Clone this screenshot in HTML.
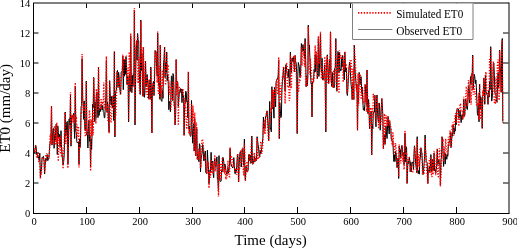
<!DOCTYPE html>
<html><head><meta charset="utf-8"><style>
html,body{margin:0;padding:0;background:#fff;width:517px;height:248px;overflow:hidden}
svg{display:block;will-change:transform}
text{font-family:"Liberation Serif",serif}
</style></head><body>
<svg width="517" height="248" viewBox="0 0 517 248">
<rect width="517" height="248" fill="#fff"/>
<defs><clipPath id="c"><rect x="33" y="3" width="476" height="211"/></clipPath></defs>
<g clip-path="url(#c)">
<polyline points="33.5,150.0 34.0,153.4 34.6,151.0 35.1,149.3 35.6,145.3 36.1,147.0 36.7,154.5 37.2,154.6 37.7,157.6 38.3,156.6 38.8,159.1 39.3,160.7 39.8,153.2 40.4,177.0 40.9,169.2 41.4,170.6 42.0,158.6 42.5,157.1 43.0,156.7 43.5,156.3 44.1,161.7 44.6,174.0 45.1,165.2 45.7,159.1 46.2,160.2 46.7,160.1 47.2,154.5 47.8,160.7 48.3,158.7 48.8,159.0 49.4,151.2 49.9,143.6 50.4,141.0 50.9,140.5 51.5,106.0 52.0,145.1 52.5,138.2 53.1,128.8 53.6,128.5 54.1,148.3 54.6,134.6 55.2,140.3 55.7,129.0 56.2,124.1 56.8,134.1 57.3,154.6 57.8,125.9 58.3,132.3 58.9,138.4 59.4,134.4 59.9,146.6 60.5,146.1 61.0,130.7 61.5,147.2 62.0,154.0 62.6,160.8 63.1,165.0 63.6,162.3 64.2,154.8 64.7,132.5 65.2,112.0 65.7,136.2 66.3,133.2 66.8,122.0 67.3,121.4 67.9,164.0 68.4,148.4 68.9,119.4 69.4,118.7 70.0,125.1 70.5,95.0 71.0,146.2 71.6,117.5 72.1,115.3 72.6,117.4 73.1,115.5 73.7,113.3 74.2,128.7 74.7,138.5 75.3,86.0 75.8,131.3 76.3,132.7 76.8,141.7 77.4,143.0 77.9,142.2 78.4,142.0 79.0,164.0 79.5,139.0 80.0,147.4 80.5,142.9 81.1,106.7 81.6,105.6 82.1,58.6 82.7,99.9 83.2,103.5 83.7,119.4 84.2,100.9 84.8,128.2 85.3,130.7 85.8,123.6 86.3,81.0 86.9,135.0 87.4,132.1 87.9,148.0 88.5,126.7 89.0,120.4 89.5,141.3 90.0,135.7 90.6,167.0 91.1,139.4 91.6,149.6 92.2,130.0 92.7,104.1 93.2,107.8 93.7,77.4 94.3,104.8 94.8,121.7 95.3,101.9 95.9,118.3 96.4,97.5 96.9,92.4 97.4,105.6 98.0,117.6 98.5,67.0 99.0,115.5 99.6,110.6 100.1,108.0 100.6,111.5 101.1,104.4 101.7,105.9 102.2,110.0 102.7,105.2 103.3,111.7 103.8,112.5 104.3,117.8 104.8,117.6 105.4,103.9 105.9,97.2 106.4,61.0 107.0,111.9 107.5,102.1 108.0,107.1 108.5,122.4 109.1,132.0 109.6,80.6 110.1,92.1 110.7,102.5 111.2,105.1 111.7,96.4 112.2,107.6 112.8,107.5 113.3,95.5 113.8,120.6 114.4,52.0 114.9,137.0 115.4,96.0 115.9,91.1 116.5,90.0 117.0,71.5 117.5,70.4 118.1,87.5 118.6,72.3 119.1,76.4 119.6,87.7 120.2,91.3 120.7,94.2 121.2,72.1 121.8,71.3 122.3,70.6 122.8,56.0 123.3,89.7 123.9,60.0 124.4,76.2 124.9,59.4 125.5,74.3 126.0,56.9 126.5,67.0 127.0,84.3 127.6,76.7 128.1,76.9 128.6,122.0 129.2,79.9 129.7,74.3 130.2,91.6 130.7,36.0 131.3,79.6 131.8,92.5 132.3,75.4 132.9,86.8 133.4,73.4 133.9,72.9 134.4,10.0 135.0,125.0 135.5,84.7 136.0,48.8 136.6,40.7 137.1,60.3 137.6,33.5 138.1,40.7 138.7,40.7 139.2,69.8 139.7,82.0 140.3,94.5 140.8,20.0 141.3,70.6 141.8,53.7 142.4,75.9 142.9,96.2 143.4,47.0 144.0,96.9 144.5,97.2 145.0,87.7 145.5,61.0 146.1,87.0 146.6,82.5 147.1,74.5 147.7,82.6 148.2,86.9 148.7,99.0 149.2,80.2 149.8,94.4 150.3,99.3 150.8,67.0 151.4,92.6 151.9,133.0 152.4,89.4 152.9,84.2 153.5,81.1 154.0,95.5 154.5,81.3 155.1,50.6 155.6,52.7 156.1,51.7 156.6,67.5 157.2,76.0 157.7,32.8 158.2,71.4 158.8,86.3 159.3,82.9 159.8,99.2 160.3,45.0 160.9,98.7 161.4,100.8 161.9,101.4 162.5,89.9 163.0,98.3 163.5,62.5 164.0,59.6 164.6,47.0 165.1,77.6 165.6,62.6 166.2,73.3 166.7,52.0 167.2,80.6 167.7,74.7 168.3,84.3 168.8,109.7 169.3,101.4 169.9,103.3 170.4,111.7 170.9,98.2 171.4,76.1 172.0,76.2 172.5,100.5 173.0,73.5 173.6,75.8 174.1,100.2 174.6,109.6 175.1,125.0 175.7,112.8 176.2,59.6 176.7,89.3 177.3,81.4 177.8,82.8 178.3,106.3 178.8,99.1 179.4,91.6 179.9,90.3 180.4,88.7 181.0,92.7 181.5,89.1 182.0,102.6 182.5,89.5 183.1,96.8 183.6,95.0 184.1,135.0 184.7,103.6 185.2,103.8 185.7,91.2 186.2,91.8 186.8,102.1 187.3,101.6 187.8,118.0 188.4,72.0 188.9,128.9 189.4,126.2 189.9,134.5 190.5,136.4 191.0,134.8 191.5,100.5 192.0,124.4 192.6,143.2 193.1,131.4 193.6,123.9 194.2,151.1 194.7,119.0 195.2,133.8 195.7,156.0 196.3,140.4 196.8,128.6 197.3,159.2 197.9,154.3 198.4,156.0 198.9,161.7 199.4,143.7 200.0,145.4 200.5,172.0 201.0,159.9 201.6,155.8 202.1,152.9 202.6,144.5 203.1,147.5 203.7,160.7 204.2,160.8 204.7,153.8 205.3,151.0 205.8,172.6 206.3,173.3 206.8,173.9 207.4,150.2 207.9,160.9 208.4,166.4 209.0,183.5 209.5,175.9 210.0,170.2 210.5,172.0 211.1,152.3 211.6,167.3 212.1,168.9 212.7,161.0 213.2,174.2 213.7,177.7 214.2,163.1 214.8,158.4 215.3,164.4 215.8,166.8 216.4,163.3 216.9,156.9 217.4,179.6 217.9,180.0 218.5,192.0 219.0,155.6 219.5,176.7 220.1,181.4 220.6,181.4 221.1,181.2 221.6,170.4 222.2,171.7 222.7,157.4 223.2,157.6 223.8,162.1 224.3,169.4 224.8,164.0 225.3,165.4 225.9,170.2 226.4,171.8 226.9,174.4 227.5,172.5 228.0,167.5 228.5,173.1 229.0,170.3 229.6,162.2 230.1,148.5 230.6,163.1 231.2,164.1 231.7,166.6 232.2,166.7 232.7,168.0 233.3,166.5 233.8,157.6 234.3,165.4 234.9,173.7 235.4,173.5 235.9,168.8 236.4,171.2 237.0,161.3 237.5,154.3 238.0,157.6 238.6,182.0 239.1,166.3 239.6,156.4 240.1,152.1 240.7,151.4 241.2,167.0 241.7,161.6 242.3,149.3 242.8,148.5 243.3,159.8 243.8,165.0 244.4,139.0 244.9,174.7 245.4,180.0 246.0,166.2 246.5,167.6 247.0,171.8 247.5,171.1 248.1,170.4 248.6,155.9 249.1,154.3 249.7,160.8 250.2,155.0 250.7,163.3 251.2,163.2 251.8,136.0 252.3,157.0 252.8,164.3 253.4,163.7 253.9,159.9 254.4,155.7 254.9,161.8 255.5,158.3 256.0,160.3 256.5,160.5 257.1,136.7 257.6,140.6 258.1,144.7 258.6,148.0 259.2,156.2 259.7,157.1 260.2,150.2 260.8,153.5 261.3,151.8 261.8,147.3 262.3,143.0 262.9,137.5 263.4,117.0 263.9,128.5 264.5,124.7 265.0,128.3 265.5,116.5 266.0,116.8 266.6,112.7 267.1,110.9 267.6,120.2 268.2,127.0 268.7,140.0 269.2,118.0 269.7,101.4 270.3,129.2 270.8,127.8 271.3,131.9 271.9,86.7 272.4,108.9 272.9,91.7 273.4,106.6 274.0,118.2 274.5,87.3 275.0,94.7 275.6,107.0 276.1,82.3 276.6,80.7 277.1,79.1 277.7,77.6 278.2,76.0 278.7,60.2 279.3,138.6 279.8,103.1 280.3,109.7 280.8,117.7 281.4,116.7 281.9,88.5 282.4,81.7 283.0,75.0 283.5,67.1 284.0,74.6 284.5,81.2 285.1,91.1 285.6,65.5 286.1,64.4 286.7,70.8 287.2,74.5 287.7,74.3 288.2,77.3 288.8,69.0 289.3,84.0 289.8,86.3 290.4,52.0 290.9,71.3 291.4,72.4 291.9,58.6 292.5,58.0 293.0,61.5 293.5,57.0 294.1,64.9 294.6,71.8 295.1,55.4 295.6,61.3 296.2,63.2 296.7,74.0 297.2,133.6 297.8,75.9 298.3,62.5 298.8,64.7 299.3,66.6 299.9,77.6 300.4,77.2 300.9,63.1 301.4,43.5 302.0,51.4 302.5,48.1 303.0,44.5 303.6,50.9 304.1,50.1 304.6,58.4 305.1,38.5 305.7,60.3 306.2,86.7 306.7,75.8 307.3,85.9 307.8,76.8 308.3,25.1 308.8,44.4 309.4,44.9 309.9,58.1 310.4,69.1 311.0,83.5 311.5,83.0 312.0,117.0 312.5,82.0 313.1,81.5 313.6,80.1 314.1,69.5 314.7,71.7 315.2,54.6 315.7,71.7 316.2,54.7 316.8,60.7 317.3,78.6 317.8,70.3 318.4,38.5 318.9,76.5 319.4,68.2 319.9,53.5 320.5,33.5 321.0,67.4 321.5,72.9 322.1,58.3 322.6,79.6 323.1,80.1 323.6,77.7 324.2,74.1 324.7,64.9 325.2,80.8 325.8,132.0 326.3,72.6 326.8,62.7 327.3,54.8 327.9,68.4 328.4,83.5 328.9,73.7 329.5,59.5 330.0,72.7 330.5,31.8 331.0,70.7 331.6,86.0 332.1,86.6 332.6,72.5 333.2,87.6 333.7,84.7 334.2,87.5 334.7,68.2 335.3,67.7 335.8,38.5 336.3,82.4 336.9,91.3 337.4,66.9 337.9,51.4 338.4,52.4 339.0,72.8 339.5,52.0 340.0,71.1 340.6,69.0 341.1,70.4 341.6,58.6 342.1,67.1 342.7,55.5 343.2,62.8 343.7,72.9 344.3,80.0 344.8,52.0 345.3,63.3 345.8,71.9 346.4,68.1 346.9,93.1 347.4,95.5 348.0,85.5 348.5,76.1 349.0,68.7 349.5,62.2 350.1,66.7 350.6,76.9 351.1,84.9 351.7,89.6 352.2,99.5 352.7,86.1 353.2,82.3 353.8,99.5 354.3,45.0 354.8,67.1 355.4,76.0 355.9,81.4 356.4,88.6 356.9,84.0 357.5,130.0 358.0,91.1 358.5,101.8 359.1,72.4 359.6,73.8 360.1,84.6 360.6,77.0 361.2,76.7 361.7,93.4 362.2,87.1 362.8,101.0 363.3,109.6 363.8,108.4 364.3,110.8 364.9,104.2 365.4,84.7 365.9,93.4 366.5,104.6 367.0,70.0 367.5,100.7 368.0,113.7 368.6,99.5 369.1,112.7 369.6,128.8 370.2,116.1 370.7,115.2 371.2,111.1 371.7,155.0 372.3,124.6 372.8,128.9 373.3,112.1 373.9,111.9 374.4,112.1 374.9,95.3 375.4,119.2 376.0,126.8 376.5,100.8 377.0,95.0 377.6,114.5 378.1,120.4 378.6,122.7 379.1,102.9 379.7,107.9 380.2,130.2 380.7,118.6 381.3,108.2 381.8,98.6 382.3,105.1 382.8,114.7 383.4,148.6 383.9,137.7 384.4,135.3 385.0,144.5 385.5,137.1 386.0,126.0 386.5,134.0 387.1,138.6 387.6,124.6 388.1,116.7 388.7,128.3 389.2,134.0 389.7,121.8 390.2,127.6 390.8,128.5 391.3,139.3 391.8,140.2 392.4,141.9 392.9,141.3 393.4,154.2 393.9,161.5 394.5,155.1 395.0,161.5 395.5,151.5 396.1,153.5 396.6,160.5 397.1,167.6 397.6,160.4 398.2,158.0 398.7,178.5 399.2,145.9 399.8,152.4 400.3,149.7 400.8,157.6 401.3,148.1 401.9,145.4 402.4,147.7 402.9,156.0 403.4,152.6 404.0,164.7 404.5,159.7 405.0,133.4 405.6,161.7 406.1,146.6 406.6,147.7 407.1,183.5 407.7,164.6 408.2,161.3 408.7,163.5 409.3,157.2 409.8,161.4 410.3,171.7 410.8,161.8 411.4,171.7 411.9,164.5 412.4,162.2 413.0,162.2 413.5,169.1 414.0,153.6 414.5,145.8 415.1,153.2 415.6,163.2 416.1,166.8 416.7,172.7 417.2,136.7 417.7,170.0 418.2,173.5 418.8,170.5 419.3,174.2 419.8,160.3 420.4,157.5 420.9,147.8 421.4,151.9 421.9,152.8 422.5,165.2 423.0,174.6 423.5,171.7 424.1,163.5 424.6,156.9 425.1,135.0 425.6,149.6 426.2,161.6 426.7,162.1 427.2,162.8 427.8,183.5 428.3,170.6 428.8,171.6 429.3,166.4 429.9,171.4 430.4,166.2 430.9,154.6 431.5,171.9 432.0,171.6 432.5,159.0 433.0,170.2 433.6,169.3 434.1,153.0 434.6,171.0 435.2,169.4 435.7,173.5 436.2,169.7 436.7,164.7 437.3,148.9 437.8,164.5 438.3,163.4 438.9,159.7 439.4,164.2 439.9,163.7 440.4,185.2 441.0,159.7 441.5,158.2 442.0,136.7 442.6,141.8 443.1,154.6 443.6,166.4 444.1,155.8 444.7,152.3 445.2,164.1 445.7,153.7 446.3,156.5 446.8,159.3 447.3,154.7 447.8,156.2 448.4,144.5 448.9,144.0 449.4,141.0 450.0,140.2 450.5,133.3 451.0,147.7 451.5,141.6 452.1,133.0 452.6,136.2 453.1,125.2 453.7,131.2 454.2,134.2 454.7,128.4 455.2,131.2 455.8,114.8 456.3,124.6 456.8,110.0 457.4,108.7 457.9,108.5 458.4,108.8 458.9,118.4 459.5,116.1 460.0,110.3 460.5,114.8 461.1,122.6 461.6,116.6 462.1,114.9 462.6,119.4 463.2,115.0 463.7,99.1 464.2,116.2 464.8,115.2 465.3,99.0 465.8,99.0 466.3,102.6 466.9,109.2 467.4,109.6 467.9,100.1 468.5,86.4 469.0,90.9 469.5,103.0 470.0,85.0 470.6,76.6 471.1,83.7 471.6,73.8 472.2,74.5 472.7,55.0 473.2,89.4 473.7,81.1 474.3,74.3 474.8,76.8 475.3,83.6 475.9,80.1 476.4,87.7 476.9,101.2 477.4,113.7 478.0,115.5 478.5,103.8 479.0,121.8 479.6,84.1 480.1,109.3 480.6,96.6 481.1,97.6 481.7,104.1 482.2,128.0 482.7,96.2 483.3,95.7 483.8,77.9 484.3,87.1 484.8,104.3 485.4,74.9 485.9,91.8 486.4,92.2 487.0,95.1 487.5,95.4 488.0,104.3 488.5,90.7 489.1,97.2 489.6,81.4 490.1,89.6 490.7,46.7 491.2,74.1 491.7,101.1 492.2,97.8 492.8,87.0 493.3,67.4 493.8,63.1 494.4,75.6 494.9,93.0 495.4,93.5 495.9,94.8 496.5,100.0 497.0,102.4 497.5,84.7 498.1,72.4 498.6,88.3 499.1,83.0 499.6,50.0 500.2,67.0 500.7,73.8 501.2,92.4 501.8,44.0 502.3,38.5 502.8,121.5" fill="none" stroke="#000" stroke-width="1"/>
<polyline points="33.5,151.4 34.0,148.3 34.6,152.9 35.1,149.5 35.6,145.9 36.1,151.3 36.7,158.3 37.2,152.8 37.7,156.5 38.3,151.8 38.8,162.3 39.3,160.8 39.8,161.9 40.4,179.0 40.9,171.5 41.4,174.5 42.0,157.5 42.5,157.1 43.0,158.5 43.5,159.3 44.1,159.5 44.6,172.2 45.1,168.2 45.7,154.3 46.2,161.4 46.7,153.1 47.2,157.1 47.8,157.1 48.3,156.4 48.8,159.0 49.4,153.7 49.9,138.7 50.4,134.4 50.9,144.2 51.5,106.3 52.0,139.3 52.5,145.0 53.1,140.5 53.6,142.3 54.1,126.6 54.6,126.2 55.2,145.2 55.7,128.5 56.2,144.2 56.8,122.7 57.3,143.5 57.8,135.3 58.3,161.3 58.9,142.2 59.4,136.6 59.9,146.2 60.5,154.0 61.0,136.1 61.5,157.2 62.0,147.5 62.6,156.0 63.1,168.9 63.6,154.9 64.2,143.1 64.7,124.6 65.2,112.7 65.7,143.9 66.3,132.7 66.8,129.7 67.3,139.1 67.9,168.2 68.4,141.4 68.9,129.9 69.4,127.5 70.0,129.1 70.5,91.9 71.0,145.1 71.6,128.1 72.1,115.3 72.6,120.9 73.1,122.8 73.7,114.6 74.2,118.4 74.7,123.7 75.3,82.5 75.8,120.3 76.3,116.4 76.8,138.3 77.4,124.7 77.9,137.4 78.4,126.4 79.0,167.6 79.5,148.2 80.0,148.7 80.5,131.6 81.1,112.5 81.6,113.4 82.1,54.0 82.7,99.9 83.2,105.0 83.7,111.2 84.2,104.2 84.8,129.8 85.3,136.0 85.8,136.6 86.3,82.1 86.9,131.6 87.4,129.1 87.9,135.2 88.5,120.6 89.0,118.1 89.5,110.2 90.0,118.0 90.6,171.0 91.1,119.6 91.6,136.5 92.2,131.4 92.7,110.2 93.2,135.3 93.7,77.8 94.3,98.0 94.8,94.9 95.3,105.0 95.9,123.7 96.4,89.0 96.9,93.4 97.4,108.7 98.0,110.8 98.5,67.1 99.0,91.0 99.6,107.8 100.1,109.5 100.6,109.4 101.1,98.3 101.7,108.4 102.2,103.3 102.7,104.3 103.3,102.3 103.8,82.5 104.3,107.6 104.8,108.8 105.4,109.2 105.9,91.6 106.4,56.3 107.0,113.0 107.5,105.5 108.0,120.7 108.5,122.4 109.1,133.5 109.6,80.6 110.1,97.5 110.7,121.7 111.2,122.8 111.7,115.9 112.2,104.1 112.8,95.4 113.3,104.3 113.8,110.5 114.4,51.3 114.9,136.3 115.4,117.2 115.9,114.7 116.5,95.0 117.0,71.5 117.5,74.8 118.1,79.8 118.6,86.9 119.1,82.0 119.6,76.9 120.2,94.4 120.7,89.9 121.2,75.9 121.8,74.4 122.3,70.9 122.8,54.5 123.3,79.0 123.9,60.0 124.4,59.3 124.9,58.5 125.5,57.7 126.0,56.9 126.5,67.3 127.0,84.7 127.6,78.4 128.1,67.9 128.6,120.8 129.2,51.9 129.7,59.7 130.2,84.7 130.7,33.2 131.3,76.9 131.8,92.5 132.3,84.6 132.9,84.7 133.4,83.8 133.9,84.5 134.4,8.2 135.0,123.4 135.5,78.5 136.0,51.1 136.6,40.7 137.1,45.4 137.6,34.9 138.1,83.4 138.7,56.7 139.2,82.9 139.7,94.3 140.3,94.5 140.8,21.1 141.3,62.9 141.8,49.4 142.4,76.1 142.9,96.2 143.4,47.0 144.0,82.4 144.5,85.0 145.0,74.8 145.5,61.0 146.1,94.5 146.6,79.3 147.1,76.2 147.7,98.6 148.2,98.8 148.7,99.0 149.2,79.5 149.8,93.0 150.3,99.3 150.8,68.0 151.4,98.2 151.9,133.2 152.4,94.0 152.9,82.7 153.5,84.5 154.0,95.5 154.5,68.1 155.1,50.6 155.6,61.8 156.1,51.7 156.6,63.7 157.2,82.6 157.7,31.6 158.2,92.0 158.8,93.8 159.3,65.9 159.8,99.2 160.3,45.1 160.9,93.4 161.4,85.4 161.9,97.4 162.5,70.0 163.0,85.7 163.5,73.5 164.0,68.3 164.6,47.1 165.1,70.7 165.6,85.1 166.2,75.1 166.7,53.1 167.2,70.5 167.7,64.6 168.3,66.5 168.8,90.6 169.3,94.8 169.9,81.6 170.4,94.7 170.9,109.9 171.4,96.5 172.0,86.2 172.5,100.4 173.0,81.2 173.6,82.5 174.1,106.7 174.6,106.4 175.1,124.9 175.7,95.7 176.2,59.5 176.7,95.6 177.3,81.4 177.8,89.1 178.3,125.4 178.8,99.7 179.4,86.9 179.9,88.3 180.4,88.7 181.0,88.9 181.5,89.1 182.0,94.0 182.5,89.5 183.1,89.8 183.6,97.2 184.1,136.3 184.7,98.1 185.2,107.2 185.7,107.0 186.2,123.2 186.8,129.2 187.3,116.9 187.8,122.5 188.4,71.7 188.9,133.8 189.4,128.0 189.9,134.5 190.5,135.1 191.0,131.4 191.5,104.0 192.0,106.4 192.6,122.4 193.1,105.6 193.6,130.5 194.2,151.1 194.7,112.6 195.2,146.1 195.7,156.0 196.3,122.6 196.8,128.3 197.3,159.2 197.9,160.2 198.4,148.7 198.9,159.3 199.4,150.5 200.0,150.5 200.5,168.0 201.0,166.0 201.6,145.2 202.1,139.1 202.6,139.8 203.1,141.7 203.7,150.5 204.2,159.0 204.7,157.6 205.3,155.5 205.8,166.4 206.3,167.1 206.8,173.9 207.4,161.1 207.9,165.3 208.4,164.4 209.0,188.1 209.5,171.4 210.0,172.8 210.5,177.7 211.1,159.4 211.6,173.1 212.1,162.1 212.7,167.7 213.2,174.0 213.7,167.0 214.2,164.7 214.8,155.0 215.3,171.5 215.8,164.2 216.4,162.4 216.9,161.9 217.4,172.9 217.9,177.6 218.5,196.6 219.0,164.1 219.5,174.9 220.1,178.5 220.6,163.2 221.1,179.9 221.6,170.3 222.2,158.9 222.7,157.4 223.2,162.5 223.8,172.2 224.3,165.4 224.8,173.9 225.3,169.0 225.9,179.4 226.4,175.7 226.9,178.2 227.5,170.9 228.0,160.7 228.5,174.8 229.0,176.3 229.6,176.7 230.1,147.2 230.6,165.1 231.2,155.5 231.7,158.5 232.2,159.3 232.7,159.5 233.3,167.0 233.8,163.5 234.3,165.2 234.9,171.8 235.4,170.3 235.9,169.1 236.4,174.7 237.0,172.0 237.5,154.4 238.0,153.9 238.6,181.9 239.1,169.4 239.6,170.0 240.1,152.1 240.7,151.4 241.2,163.8 241.7,150.3 242.3,149.2 242.8,156.2 243.3,170.2 243.8,175.8 244.4,143.5 244.9,158.2 245.4,181.4 246.0,170.7 246.5,168.4 247.0,161.4 247.5,171.1 248.1,170.4 248.6,163.0 249.1,154.1 249.7,160.5 250.2,161.3 250.7,158.3 251.2,145.9 251.8,137.0 252.3,157.4 252.8,164.3 253.4,163.7 253.9,155.0 254.4,152.5 254.9,161.3 255.5,157.6 256.0,160.9 256.5,159.7 257.1,137.6 257.6,159.6 258.1,158.1 258.6,156.6 259.2,158.3 259.7,157.6 260.2,148.9 260.8,141.4 261.3,148.2 261.8,154.0 262.3,150.0 262.9,144.4 263.4,121.6 263.9,133.1 264.5,119.7 265.0,134.4 265.5,119.5 266.0,114.6 266.6,112.7 267.1,110.9 267.6,125.0 268.2,136.3 268.7,141.0 269.2,124.2 269.7,118.8 270.3,122.9 270.8,107.7 271.3,112.1 271.9,89.5 272.4,108.6 272.9,91.7 273.4,90.2 274.0,107.1 274.5,87.0 275.0,100.9 275.6,93.0 276.1,82.3 276.6,80.7 277.1,79.1 277.7,94.4 278.2,93.0 278.7,57.1 279.3,139.1 279.8,83.1 280.3,89.7 280.8,99.7 281.4,95.1 281.9,89.5 282.4,75.7 283.0,76.4 283.5,67.1 284.0,66.6 284.5,78.2 285.1,103.8 285.6,81.7 286.1,64.4 286.7,63.9 287.2,66.3 287.7,87.4 288.2,86.6 288.8,87.5 289.3,100.9 289.8,99.9 290.4,53.7 290.9,87.4 291.4,88.6 291.9,58.6 292.5,58.0 293.0,57.5 293.5,57.0 294.1,72.1 294.6,62.6 295.1,55.4 295.6,70.0 296.2,73.0 296.7,92.1 297.2,133.2 297.8,83.2 298.3,91.2 298.8,90.7 299.3,78.9 299.9,81.9 300.4,75.4 300.9,77.3 301.4,47.3 302.0,65.8 302.5,45.5 303.0,54.6 303.6,52.4 304.1,62.4 304.6,66.8 305.1,41.1 305.7,85.9 306.2,86.7 306.7,77.0 307.3,86.1 307.8,74.8 308.3,26.6 308.8,67.9 309.4,73.0 309.9,74.6 310.4,58.4 311.0,66.5 311.5,72.0 312.0,116.8 312.5,82.0 313.1,78.7 313.6,80.9 314.1,79.2 314.7,56.7 315.2,45.3 315.7,64.4 316.2,51.2 316.8,56.9 317.3,78.6 317.8,59.5 318.4,36.1 318.9,64.1 319.4,56.7 319.9,58.1 320.5,31.8 321.0,65.5 321.5,78.8 322.1,66.4 322.6,74.7 323.1,80.1 323.6,71.5 324.2,80.2 324.7,56.7 325.2,77.1 325.8,130.4 326.3,59.8 326.8,77.6 327.3,55.5 327.9,83.2 328.4,83.5 328.9,83.8 329.5,59.0 330.0,82.3 330.5,32.3 331.0,75.9 331.6,81.2 332.1,86.6 332.6,84.1 333.2,87.6 333.7,70.0 334.2,81.7 334.7,72.9 335.3,72.0 335.8,39.5 336.3,82.2 336.9,91.3 337.4,88.6 337.9,54.6 338.4,63.2 339.0,93.5 339.5,50.0 340.0,58.5 340.6,55.5 341.1,55.5 341.6,59.3 342.1,55.5 342.7,57.8 343.2,82.2 343.7,61.8 344.3,69.8 344.8,51.2 345.3,66.9 345.8,64.9 346.4,65.1 346.9,84.7 347.4,93.5 348.0,80.8 348.5,76.6 349.0,66.6 349.5,67.9 350.1,60.4 350.6,73.3 351.1,59.4 351.7,70.2 352.2,99.5 352.7,90.5 353.2,68.8 353.8,99.5 354.3,44.2 354.8,55.7 355.4,57.9 355.9,82.5 356.4,91.3 356.9,85.0 357.5,130.4 358.0,73.3 358.5,105.8 359.1,86.4 359.6,73.8 360.1,75.6 360.6,76.1 361.2,99.4 361.7,88.9 362.2,88.0 362.8,100.7 363.3,103.7 363.8,101.0 364.3,89.7 364.9,84.3 365.4,102.4 365.9,93.0 366.5,111.7 367.0,70.1 367.5,93.2 368.0,109.8 368.6,113.6 369.1,103.0 369.6,128.5 370.2,119.3 370.7,107.5 371.2,113.7 371.7,155.0 372.3,107.6 372.8,117.1 373.3,93.8 373.9,99.3 374.4,97.4 374.9,95.3 375.4,104.7 376.0,124.0 376.5,103.2 377.0,95.7 377.6,108.0 378.1,103.1 378.6,128.9 379.1,115.7 379.7,123.6 380.2,122.1 380.7,125.2 381.3,118.0 381.8,98.0 382.3,110.9 382.8,131.1 383.4,149.2 383.9,123.0 384.4,113.6 385.0,144.5 385.5,128.1 386.0,115.3 386.5,119.0 387.1,126.1 387.6,115.6 388.1,116.6 388.7,121.5 389.2,125.8 389.7,119.8 390.2,126.8 390.8,126.9 391.3,138.2 391.8,142.1 392.4,145.6 392.9,131.9 393.4,141.4 393.9,148.4 394.5,155.0 395.0,147.7 395.5,143.1 396.1,147.9 396.6,153.4 397.1,167.6 397.6,157.4 398.2,163.9 398.7,176.8 399.2,144.6 399.8,157.1 400.3,157.5 400.8,163.4 401.3,155.5 401.9,150.0 402.4,145.4 402.9,161.8 403.4,153.0 404.0,169.7 404.5,163.3 405.0,130.9 405.6,145.9 406.1,154.6 406.6,152.7 407.1,183.6 407.7,163.5 408.2,158.3 408.7,157.7 409.3,157.5 409.8,161.7 410.3,171.7 410.8,165.5 411.4,171.7 411.9,171.7 412.4,171.7 413.0,171.7 413.5,171.7 414.0,159.6 414.5,146.7 415.1,150.2 415.6,158.9 416.1,158.0 416.7,172.7 417.2,139.2 417.7,165.9 418.2,154.0 418.8,160.5 419.3,167.2 419.8,150.5 420.4,148.1 420.9,147.8 421.4,150.9 421.9,153.7 422.5,174.6 423.0,174.6 423.5,169.1 424.1,174.6 424.6,164.3 425.1,138.2 425.6,152.4 426.2,155.8 426.7,171.7 427.2,174.3 427.8,183.6 428.3,171.9 428.8,170.2 429.3,159.2 429.9,173.5 430.4,156.7 430.9,159.1 431.5,176.8 432.0,176.5 432.5,159.3 433.0,174.6 433.6,164.6 434.1,150.7 434.6,156.0 435.2,170.0 435.7,175.1 436.2,167.8 436.7,158.3 437.3,149.3 437.8,176.3 438.3,176.6 438.9,162.4 439.4,148.2 439.9,150.6 440.4,186.4 441.0,175.1 441.5,163.3 442.0,136.5 442.6,141.9 443.1,141.0 443.6,161.9 444.1,146.5 444.7,157.1 445.2,148.6 445.7,138.7 446.3,150.0 446.8,151.1 447.3,153.8 447.8,153.9 448.4,136.7 448.9,144.2 449.4,146.4 450.0,130.4 450.5,135.3 451.0,147.7 451.5,146.4 452.1,124.6 452.6,126.6 453.1,122.2 453.7,135.8 454.2,124.4 454.7,119.1 455.2,114.6 455.8,113.0 456.3,123.1 456.8,109.8 457.4,108.2 457.9,112.6 458.4,123.1 458.9,126.2 459.5,116.8 460.0,103.7 460.5,104.0 461.1,110.7 461.6,111.4 462.1,111.0 462.6,119.4 463.2,117.8 463.7,96.7 464.2,116.2 464.8,115.2 465.3,105.0 465.8,96.5 466.3,86.3 466.9,90.5 467.4,106.3 467.9,92.5 468.5,80.0 469.0,88.3 469.5,99.8 470.0,94.1 470.6,91.7 471.1,104.6 471.6,74.0 472.2,90.7 472.7,55.9 473.2,94.7 473.7,88.7 474.3,84.9 474.8,94.4 475.3,91.2 475.9,98.8 476.4,104.7 476.9,105.9 477.4,103.7 478.0,106.1 478.5,93.0 479.0,119.7 479.6,84.1 480.1,119.4 480.6,115.9 481.1,113.2 481.7,99.7 482.2,128.8 482.7,90.4 483.3,95.4 483.8,77.9 484.3,102.1 484.8,99.2 485.4,92.6 485.9,71.9 486.4,82.5 487.0,91.6 487.5,93.5 488.0,104.3 488.5,93.7 489.1,95.1 489.6,59.1 490.1,67.4 490.7,48.0 491.2,69.3 491.7,94.2 492.2,88.6 492.8,73.3 493.3,61.2 493.8,88.6 494.4,103.8 494.9,99.5 495.4,104.0 495.9,77.5 496.5,102.0 497.0,75.6 497.5,63.5 498.1,59.6 498.6,80.3 499.1,100.3 499.6,51.0 500.2,74.3 500.7,81.9 501.2,91.8 501.8,42.5 502.3,39.6 502.8,122.7" fill="none" stroke="#f00" stroke-width="1.4" stroke-dasharray="1.2 1.6"/>
</g>
<g fill="none" stroke-width="1">
<path d="M33,3 H509" stroke="#000"/>
<path d="M509,2.5 V213.5" stroke="#000"/>
<path d="M33.5,3 V214 M33,213.5 H509.5" stroke="#000"/>
<path d="M86.5,213 V207 M86.5,3.5 V8" stroke="#000"/>
<path d="M139.5,213 V207 M139.5,3.5 V8" stroke="#000"/>
<path d="M192.5,213 V207 M192.5,3.5 V8" stroke="#000"/>
<path d="M244.5,213 V207 M244.5,3.5 V8" stroke="#000"/>
<path d="M297.5,213 V207 M297.5,3.5 V8" stroke="#000"/>
<path d="M350.5,213 V207 M350.5,3.5 V8" stroke="#000"/>
<path d="M403.5,213 V207 M403.5,3.5 V8" stroke="#000"/>
<path d="M456.5,213 V207 M456.5,3.5 V8" stroke="#000"/>
<path d="M34,183.0 H38.5 M508.5,183.0 H503" stroke="#000"/>
<path d="M34,153.0 H38.5 M508.5,153.0 H503" stroke="#000"/>
<path d="M34,123.0 H38.5 M508.5,123.0 H503" stroke="#000"/>
<path d="M34,93.0 H38.5 M508.5,93.0 H503" stroke="#000"/>
<path d="M34,63.0 H38.5 M508.5,63.0 H503" stroke="#000"/>
<path d="M34,33.0 H38.5 M508.5,33.0 H503" stroke="#000"/>
</g>
<g font-family="Liberation Serif" font-size="10.5" fill="#000">
<text x="34.0" y="225.3" text-anchor="middle">0</text>
<text x="87.0" y="225.3" text-anchor="middle">100</text>
<text x="140.0" y="225.3" text-anchor="middle">200</text>
<text x="193.0" y="225.3" text-anchor="middle">300</text>
<text x="245.0" y="225.3" text-anchor="middle">400</text>
<text x="298.0" y="225.3" text-anchor="middle">500</text>
<text x="351.0" y="225.3" text-anchor="middle">600</text>
<text x="404.0" y="225.3" text-anchor="middle">700</text>
<text x="457.0" y="225.3" text-anchor="middle">800</text>
<text x="510.0" y="225.3" text-anchor="middle">900</text>
<text x="30.3" y="217.1" text-anchor="end">0</text>
<text x="30.3" y="187.1" text-anchor="end">2</text>
<text x="30.3" y="157.1" text-anchor="end">4</text>
<text x="30.3" y="127.1" text-anchor="end">6</text>
<text x="30.3" y="97.1" text-anchor="end">8</text>
<text x="30.3" y="67.1" text-anchor="end">10</text>
<text x="30.3" y="37.1" text-anchor="end">12</text>
<text x="30.3" y="7.1" text-anchor="end">14</text>
</g>
<text x="270.7" y="245" font-family="Liberation Serif" font-size="15" text-anchor="middle">Time (days)</text>
<text transform="translate(10.2,108.4) rotate(-90)" font-family="Liberation Serif" font-size="15" text-anchor="middle">ET0 (mm/day)</text>
<rect x="352" y="3.5" width="121.5" height="36.5" fill="#fff"/>
<path d="M352.5,3.5 V39.5 H473 M473,39.5 V3.5" fill="none" stroke="#808080" stroke-width="1"/>
<path d="M358,12.9 H391.5" stroke="#f00" stroke-width="1.7" stroke-dasharray="1.35 1.5"/>
<path d="M358,29.5 H392.4" stroke="#777" stroke-width="1.1"/>
<g font-family="Liberation Serif" font-size="11.5" fill="#000">
<text x="396.2" y="18.2" textLength="67" lengthAdjust="spacingAndGlyphs">Simulated ET0</text>
<text x="396.2" y="34.5" textLength="66" lengthAdjust="spacingAndGlyphs">Observed ET0</text>
</g>
</svg>
</body></html>
